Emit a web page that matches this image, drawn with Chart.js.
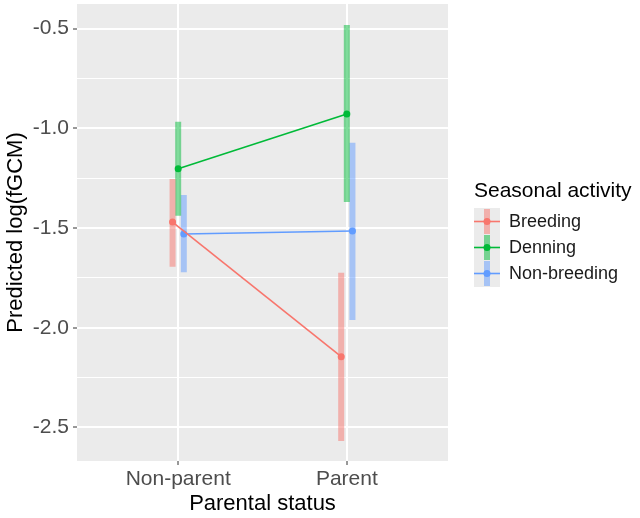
<!DOCTYPE html>
<html>
<head>
<meta charset="utf-8">
<script src="https://cdn.jsdelivr.net/npm/chart.js@4/dist/chart.umd.min.js"></script>
<style>
  html, body { margin: 0; padding: 0; background: #ffffff; }
  #wrap { position: relative; width: 640px; height: 518px; font-family: "Liberation Sans", Arial, sans-serif; }
  #c { position: absolute; left: 0; top: 0; }
  #legend { position: absolute; left: 474px; top: 176px; }
  #legend .title { font-size: 21px; color: #000; line-height: 28px; margin-bottom: 4px; white-space: nowrap; }
  #legend .item { display: flex; align-items: center; height: 26.3px; }
  #legend canvas { display: block; }
  #legend .lab { font-size: 18px; color: #1a1a1a; margin-left: 9px; white-space: nowrap; }
</style>
</head>
<body>
<div id="wrap">
  <canvas id="c" width="640" height="518"></canvas>
  <div id="legend"></div>
</div>
<script>
// ---- data ----
const categories = ['Non-parent', 'Parent'];
const seriesNames = ['Breeding', 'Denning', 'Non-breeding'];
const breedingFit = [-1.47, -2.145];
const breedingLow = [-1.694, -2.568];
const breedingHigh = [-1.254, -1.724];
const denningFit = [-1.203, -0.929];
const denningLow = [-1.438, -1.370];
const denningHigh = [-0.967, -0.482];
const nonBreedingFit = [-1.530, -1.515];
const nonBreedingLow = [-1.722, -1.961];
const nonBreedingHigh = [-1.335, -1.072];
const yTickValues = [-2.5, -2.0, -1.5, -1.0, -0.5];

// ---- styling ----
const colors = ['#F8766D', '#00BA38', '#619CFF'];
const barColors = ['rgba(248,118,109,0.5)', 'rgba(0,186,56,0.5)', 'rgba(97,156,255,0.5)'];
const dodge = [-0.0333, 0, 0.0333];
const fits = [breedingFit, denningFit, nonBreedingFit];
const lows = [breedingLow, denningLow, nonBreedingLow];
const highs = [breedingHigh, denningHigh, nonBreedingHigh];

const datasets = [];
seriesNames.forEach((name, s) => {
  const bars = [];
  categories.forEach((c, i) => {
    const x = i + 1 + dodge[s];
    bars.push({ x: x, y: lows[s][i] });
    bars.push({ x: x, y: highs[s][i] });
    bars.push({ x: x, y: null });
  });
  datasets.push({
    type: 'line', label: name + ' CI', data: bars,
    borderColor: barColors[s], borderWidth: 6, borderCapStyle: 'butt',
    pointRadius: 0, spanGaps: false, order: 3, tension: 0
  });
  datasets.push({
    type: 'line', label: name,
    data: categories.map((c, i) => ({ x: i + 1 + dodge[s], y: fits[s][i] })),
    borderColor: colors[s], backgroundColor: colors[s], borderWidth: 1.6,
    pointRadius: 3.5, pointBorderWidth: 0, pointBackgroundColor: colors[s],
    order: 1, tension: 0
  });
});

// minor grid values (between majors)
const minorVals = [];
for (let k = 0; k < yTickValues.length - 1; k++) minorVals.push((yTickValues[k] + yTickValues[k + 1]) / 2);
const allY = yTickValues.concat(minorVals).sort((a, b) => a - b);
const isMajor = v => yTickValues.some(t => Math.abs(t - v) < 1e-6);

const panelBg = {
  id: 'panelBg',
  beforeDraw(chart) {
    const { ctx, chartArea: a } = chart;
    ctx.save();
    ctx.fillStyle = '#EBEBEB';
    ctx.fillRect(a.left, a.top, a.right - a.left, a.bottom - a.top);
    ctx.restore();
  }
};

const FONT = '"Liberation Sans", Arial, sans-serif';

new Chart(document.getElementById('c'), {
  type: 'line',
  data: { datasets },
  options: {
    responsive: false,
    animation: false,
    layout: { padding: { top: 4, right: 192, left: 0, bottom: 0 } },
    plugins: { legend: { display: false }, tooltip: { enabled: false } },
    scales: {
      x: {
        type: 'linear', min: 0.4, max: 2.6,
        afterBuildTicks: sc => { sc.ticks = categories.map((c, i) => ({ value: i + 1 })); },
        afterFit: sc => { sc.height = 57; sc.paddingLeft = 0; sc.paddingRight = 0; },
        ticks: {
          callback: v => categories[Math.round(v) - 1],
          font: { family: FONT, size: 21 }, color: '#4D4D4D', padding: 2, maxRotation: 0, autoSkip: false
        },
        grid: { color: '#FFFFFF', lineWidth: 2, tickColor: '#333333', tickLength: 4, tickWidth: 1 },
        border: { display: false },
        title: { display: true, text: 'Parental status', font: { family: FONT, size: 22 }, color: '#000000', padding: { top: 0, bottom: 1 } }
      },
      y: {
        type: 'linear', min: -2.668, max: -0.377,
        afterBuildTicks: sc => { sc.ticks = allY.map(v => ({ value: v })); },
        afterFit: sc => { sc.width = 77; sc.paddingTop = 0; sc.paddingBottom = 0; },
        ticks: {
          callback: v => isMajor(v) ? v.toFixed(1) : '',
          font: { family: FONT, size: 21 }, color: '#4D4D4D', padding: 4, autoSkip: false
        },
        grid: {
          color: '#FFFFFF',
          lineWidth: c => (c.tick && isMajor(c.tick.value)) ? 2 : 1,
          tickColor: c => (c.tick && isMajor(c.tick.value)) ? '#333333' : 'rgba(0,0,0,0)',
          tickLength: 4, tickWidth: 1
        },
        border: { display: false },
        title: { display: true, text: 'Predicted log(fGCM)', font: { family: FONT, size: 22 }, color: '#000000', padding: { top: 3, bottom: 0 } }
      }
    }
  },
  plugins: [panelBg]
});

// ---- legend (HTML) ----
const legend = document.getElementById('legend');
const t = document.createElement('div');
t.className = 'title';
t.textContent = 'Seasonal activity';
legend.appendChild(t);
seriesNames.forEach((name, s) => {
  const row = document.createElement('div');
  row.className = 'item';
  const cv = document.createElement('canvas');
  cv.width = 26; cv.height = 27;
  const g = cv.getContext('2d');
  g.fillStyle = '#EBEBEB'; g.fillRect(0, 0, 26, 27);
  g.fillStyle = barColors[s]; g.fillRect(10, 1, 6, 25);
  g.strokeStyle = colors[s]; g.lineWidth = 1.6;
  g.beginPath(); g.moveTo(0, 13.5); g.lineTo(26, 13.5); g.stroke();
  g.fillStyle = colors[s]; g.beginPath(); g.arc(13, 13.5, 3.5, 0, Math.PI * 2); g.fill();
  row.appendChild(cv);
  const lab = document.createElement('span');
  lab.className = 'lab';
  lab.textContent = name;
  row.appendChild(lab);
  legend.appendChild(row);
});
</script>
</body>
</html>
